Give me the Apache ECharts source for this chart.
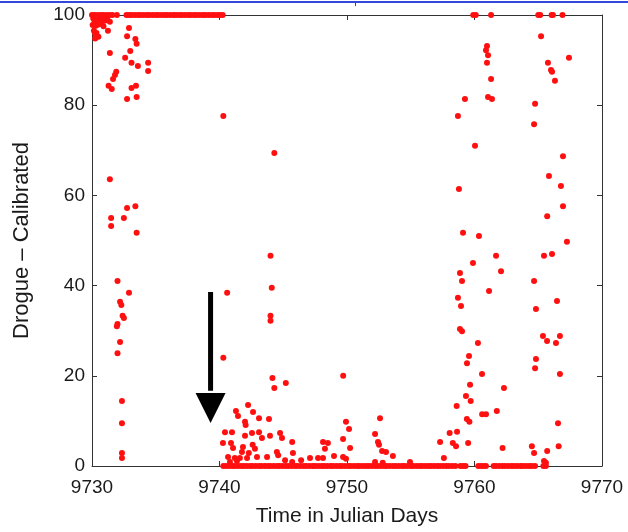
<!DOCTYPE html>
<html>
<head>
<meta charset="utf-8">
<script src="https://cdn.jsdelivr.net/npm/echarts@6/dist/echarts.min.js"></script>
<style>
html,body{margin:0;padding:0;background:#fff;}
#chart{width:628px;height:532px;}
</style>
</head>
<body>
<div id="chart"></div>
<script>
// ---- data ----
var xTicks = [9730, 9740, 9750, 9760, 9770];
var yTicks = [0, 20, 40, 60, 80, 100];

// samples sitting on the 100 ceiling
var ceilingDays = [9730.0, 9730.2, 9730.45, 9730.7, 9730.9, 9731.15, 9731.4, 9731.6, 9731.95,
  9732.7, 9732.9, 9733.1, 9733.35, 9733.6, 9733.8, 9734.05, 9734.3, 9734.5, 9734.75, 9735.0,
  9735.2, 9735.45, 9735.7, 9735.9, 9736.15, 9736.4, 9736.6, 9736.85, 9737.05, 9737.3, 9737.55,
  9737.75, 9738.0, 9738.2, 9738.45, 9738.7, 9738.9, 9739.15, 9739.4, 9739.6, 9739.85, 9740.05,
  9740.25, 9759.9, 9760.1, 9761.3, 9765.0, 9765.15, 9766.05, 9766.15, 9766.9];

// samples sitting on the 0 floor
var floorDays = [9740.3, 9740.5, 9740.75, 9741.0, 9741.2, 9741.45, 9741.7, 9741.9, 9742.15, 9742.4,
  9742.6, 9742.85, 9743.1, 9743.3, 9743.55, 9743.8, 9744.0, 9744.25, 9744.5, 9744.7, 9744.95,
  9745.2, 9745.4, 9745.65, 9745.9, 9746.1, 9746.35, 9746.6, 9746.8, 9747.05, 9747.3, 9747.5,
  9747.75, 9748.0, 9748.2, 9748.45, 9748.7, 9748.9, 9749.15, 9749.4, 9749.6, 9749.85, 9750.1,
  9750.3, 9750.55, 9750.8, 9751.0, 9751.25, 9751.5, 9751.7, 9751.95, 9752.2, 9752.4, 9752.65,
  9752.9, 9753.1, 9753.35, 9753.6, 9753.8, 9754.05, 9754.3, 9754.5, 9754.75, 9755.0, 9755.2,
  9755.45, 9755.7, 9755.9, 9756.15, 9756.4, 9756.6, 9756.85, 9757.1, 9757.3, 9757.55, 9757.8,
  9758.0, 9758.25, 9758.5, 9758.9, 9759.1, 9759.3, 9760.3, 9760.5, 9760.7, 9760.9, 9761.5,
  9761.7, 9761.95, 9762.2, 9762.4, 9762.65, 9762.9, 9763.1, 9763.35, 9763.6, 9763.8, 9764.05,
  9764.3, 9764.5, 9764.75, 9765.4, 9765.6];

// other samples [day, value]
var scatterPoints = [
  // start-of-record cluster near 100
  [9730.05,97.8],[9730.1,99.2],[9730.15,96.5],[9730.2,98.4],[9730.25,95.8],[9730.3,97.6],
  [9730.35,96.0],[9730.4,98.8],[9730.5,97.9],[9730.6,99.0],[9730.7,98.2],[9730.8,99.3],
  [9730.9,97.5],[9731.0,98.7],[9731.2,99.0],[9731.4,98.5],[9730.25,94.8],[9730.5,95.2],
  // 9731-9735 high values
  [9731.25,96.5],[9731.4,91.6],[9732.9,97.1],[9732.75,95.3],[9733.4,94.7],[9733.5,93.6],
  [9733.0,92.0],[9732.6,90.5],[9733.1,89.4],[9733.6,88.7],[9734.4,89.4],[9734.4,87.6],
  [9731.9,87.4],[9731.8,86.7],[9731.65,85.8],[9731.3,84.3],[9731.55,83.6],[9733.1,83.8],
  [9733.45,84.3],[9732.75,81.4],[9733.5,81.8],
  // 9731-9734 lower values
  [9731.4,63.6],[9731.5,55.0],[9731.5,53.2],[9732.5,55.0],[9732.75,57.2],[9733.4,57.6],
  [9733.5,51.7],[9732.0,41.0],[9732.9,38.4],[9732.2,36.4],[9732.3,35.7],[9732.4,33.3],
  [9732.5,32.8],[9732.0,31.5],[9731.95,31.0],[9732.2,27.5],[9732.0,25.0],[9732.35,14.4],
  [9732.35,9.5],[9732.35,2.9],[9732.35,1.8],
  // 9740-9750
  [9740.3,77.6],[9740.6,38.4],[9740.3,24.0],
  [9744.3,69.4],[9744.0,46.6],[9744.1,39.5],[9744.0,33.3],[9744.0,32.2],[9744.15,19.5],
  [9744.3,17.3],[9745.2,18.4],[9749.7,20.0],
  [9742.24,13.5],[9742.63,12.0],[9741.29,12.2],[9741.45,11.1],[9742.0,9.8],[9742.05,9.1],
  [9743.1,10.6],[9743.88,10.4],[9740.43,7.5],[9740.98,7.5],[9742.0,6.7],[9742.55,7.3],
  [9743.1,7.5],[9743.33,6.2],[9743.96,6.7],[9744.75,7.3],[9744.9,6.2],[9745.7,5.3],
  [9740.27,5.1],[9740.9,5.1],[9741.06,4.0],[9741.84,4.2],[9742.6,4.7],[9742.78,3.8],
  [9741.76,3.1],[9742.3,2.9],[9744.5,3.1],[9744.6,2.4],[9745.76,2.9],[9740.67,2.0],
  [9741.2,1.8],[9741.6,1.8],[9742.16,1.8],[9742.94,2.0],[9743.73,2.0],[9740.82,0.9],
  [9741.37,1.1],[9745.14,1.3],[9745.7,0.9],[9746.4,1.3],[9747.1,1.8],[9747.73,1.8],
  // 9747-9755
  [9749.92,9.8],[9750.16,8.2],[9752.59,10.6],[9752.2,7.1],[9752.43,5.3],[9752.51,4.7],
  [9752.75,3.3],[9753.06,3.1],[9753.6,2.2],[9748.12,5.3],[9748.5,5.1],[9748.27,3.8],
  [9749.69,6.0],[9750.24,4.0],[9748.12,1.8],[9748.98,2.2],[9749.69,2.0],[9749.92,1.6],
  [9754.94,0.9],[9752.2,0.9],[9752.8,0.7],
  // 9757-9767 low values
  [9757.3,5.3],[9757.6,1.8],[9758.05,7.3],[9758.63,7.6],[9758.6,13.3],[9759.7,14.4],
  [9760.6,11.5],[9760.9,11.5],[9761.75,12.2],[9759.4,10.4],[9759.6,9.8],[9758.3,5.1],
  [9758.55,4.4],[9759.5,5.1],[9762.2,4.0],[9764.5,4.4],[9764.67,2.9],[9765.7,3.3],
  [9765.45,1.1],[9765.6,0.7],[9766.55,9.5],[9766.6,4.4],
  // 9758-9763 mid values
  [9759.1,51.7],[9760.35,51.0],[9761.69,46.6],[9759.88,45.0],[9762.08,43.2],[9758.86,42.8],
  [9759.02,41.0],[9761.14,38.8],[9758.7,37.3],[9758.94,35.5],[9758.86,30.4],[9759.02,29.9],
  [9760.27,27.3],[9759.57,24.4],[9759.41,22.8],[9760.59,20.4],[9759.65,18.0],[9762.31,17.3],
  [9759.33,15.5],
  // 9764-9768 mid values
  [9767.25,49.7],[9765.45,46.6],[9766.08,47.0],[9764.67,41.0],[9766.47,36.6],[9764.82,34.8],
  [9765.37,28.8],[9765.69,27.7],[9766.39,27.3],[9766.7,28.8],[9764.82,23.7],[9764.75,21.7],
  [9766.7,20.4],
  // upper right
  [9765.22,95.3],[9765.76,89.4],[9766.0,87.8],[9766.08,87.4],[9766.31,85.4],[9767.41,90.5],
  [9760.98,93.1],[9760.9,92.2],[9761.06,91.1],[9760.98,89.4],[9761.3,85.8],[9761.06,81.8],
  [9761.37,81.4],[9759.25,81.4],[9758.7,77.6],[9764.75,80.3],[9764.67,75.8],[9760.04,71.0],
  [9766.94,68.7],[9758.78,61.4],[9765.84,64.3],[9766.78,62.1],[9766.94,57.6],[9765.7,55.4]
];

// annotation arrow: day, shaft top, head base, head tip
var arrowDay = 9739.3;
var arrowTop = 38.6;
var arrowBase = 16.2;
var arrowTip = 9.5;

// ---- build ----
var allPoints = [];
ceilingDays.forEach(function (d) { allPoints.push([d, 100]); });
floorDays.forEach(function (d) { allPoints.push([d, 0]); });
scatterPoints.forEach(function (p) { allPoints.push(p); });

var FONT = '"Liberation Sans", Arial, Helvetica, sans-serif';
var AXIS_COLOR = '#333';
var TEXT_COLOR = '#1a1a1a';

var chart = echarts.init(document.getElementById('chart'), null, {renderer: 'canvas'});

function xAxisCfg(pos, labels) {
  return {
    type: 'value', position: pos, min: xTicks[0], max: xTicks[xTicks.length - 1], interval: 10,
    axisLine: {show: true, onZero: false, lineStyle: {color: AXIS_COLOR, width: 1}},
    axisTick: {show: true, inside: true, length: 5, lineStyle: {color: AXIS_COLOR}},
    splitLine: {show: false},
    axisLabel: {show: labels, color: TEXT_COLOR, fontFamily: FONT, fontSize: 19, margin: 12,
      formatter: function (v) { return String(v); }},
    name: labels ? 'Time in Julian Days' : '',
    nameLocation: 'middle', nameGap: 40,
    nameTextStyle: {color: TEXT_COLOR, fontFamily: FONT, fontSize: 21}
  };
}
function yAxisCfg(pos, labels) {
  return {
    type: 'value', position: pos, min: yTicks[0], max: yTicks[yTicks.length - 1], interval: 20,
    axisLine: {show: true, onZero: false, lineStyle: {color: AXIS_COLOR, width: 1}},
    axisTick: {show: true, inside: true, length: 5, lineStyle: {color: AXIS_COLOR}},
    splitLine: {show: false},
    axisLabel: {show: labels, color: TEXT_COLOR, fontFamily: FONT, fontSize: 19, margin: 7,
      formatter: function (v) { return String(v); }},
    name: labels ? 'Drogue \u2013 Calibrated' : '',
    nameLocation: 'middle', nameGap: 59,
    nameTextStyle: {color: TEXT_COLOR, fontFamily: FONT, fontSize: 22}
  };
}

chart.setOption({
  animation: false,
  backgroundColor: '#ffffff',
  grid: {left: 92, right: 26, top: 15, bottom: 66, containLabel: false},
  xAxis: [xAxisCfg('bottom', true), xAxisCfg('top', false)],
  yAxis: [yAxisCfg('left', true), yAxisCfg('right', false)],
  graphic: [
    {type: 'rect', left: 0, top: 1, shape: {width: 628, height: 2}, style: {fill: '#3347dd'}, silent: true},
    {type: 'rect', left: 355, top: 3, shape: {width: 1, height: 3}, style: {fill: '#444'}, silent: true}
  ],
  series: [
    {
      type: 'scatter', xAxisIndex: 0, yAxisIndex: 0, data: allPoints,
      symbol: 'circle', symbolSize: 6, clip: false,
      itemStyle: {color: '#ff1010', opacity: 1}, silent: true, z: 3
    },
    {
      type: 'line', xAxisIndex: 0, yAxisIndex: 0,
      data: [[arrowDay, arrowTop], [arrowDay, arrowBase + 0.5]],
      symbol: 'none', lineStyle: {color: '#000', width: 5, opacity: 1}, silent: true, z: 4
    },
    {
      type: 'scatter', xAxisIndex: 0, yAxisIndex: 0,
      data: [[arrowDay, (arrowBase + arrowTip) / 2]],
      symbol: 'triangle', symbolRotate: 180, symbolSize: [30, 30],
      itemStyle: {color: '#000', opacity: 1}, silent: true, z: 4
    }
  ]
});
</script>
</body>
</html>
